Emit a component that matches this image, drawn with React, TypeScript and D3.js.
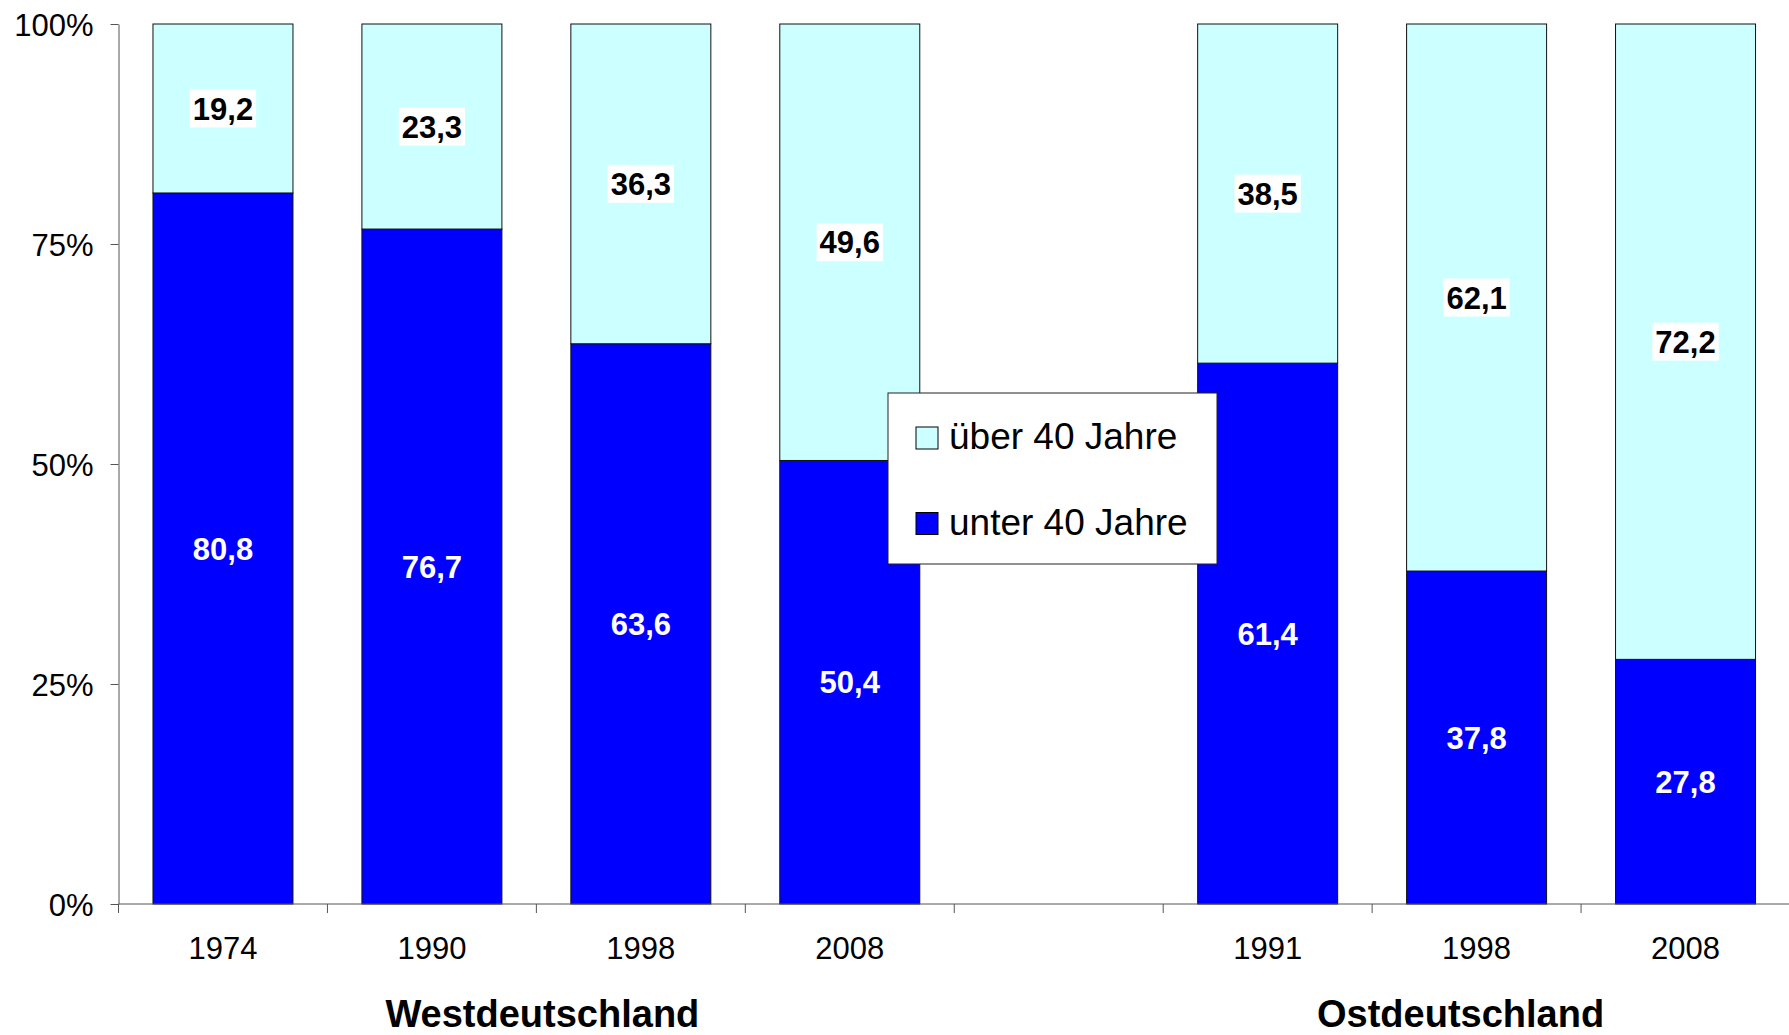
import { useEffect, useRef } from 'react';
import * as d3 from 'd3';

// categories (gap in the middle separates West / East)
const keys = ['W1974', 'W1990', 'W1998', 'W2008', 'gap', 'O1991', 'O1998', 'O2008'];
const years = ['1974', '1990', '1998', '2008', '', '1991', '1998', '2008'];
const under40 = [80.8, 76.7, 63.6, 50.4, null, 61.4, 37.8, 27.8];
const over40 = [19.2, 23.3, 36.3, 49.6, null, 38.5, 62.1, 72.2];
const yTicks = [0, 0.25, 0.5, 0.75, 1];
const seriesNames = ['über 40 Jahre', 'unter 40 Jahre'];
const groups = [
  { name: 'Westdeutschland', from: 'W1974', to: 'W2008' },
  { name: 'Ostdeutschland', from: 'O1991', to: 'O2008' },
];

const W = 1789;
const H = 1035;
const DARK = '#0000FF';
const LIGHT = '#CCFFFF';
const FONT = '"Liberation Sans", Arial, Helvetica, sans-serif';

export default function App() {
  const svgRef = useRef<SVGSVGElement>(null);

  useEffect(() => {
    document.body.style.margin = '0';
    document.body.style.overflow = 'hidden';
    if (!svgRef.current) return;
    const svg = d3.select(svgRef.current);
    svg.selectAll('*').remove();

    const left = 118.5;
    const top = 24;
    const bottom = 904;

    const x = d3.scaleBand<string>().domain(keys).range([left, W + 1]).paddingInner(0.33).paddingOuter(0.165);
    const y = d3.scaleLinear().domain([0, 1]).range([bottom, top]);
    const step = x.step();
    const bw = x.bandwidth();

    // bars
    const data = keys.map((k, i) => ({ k, i, u: under40[i], o: over40[i] })).filter(d => d.u != null);
    const g = svg.append('g');
    data.forEach(d => {
      const tot = (d.u as number) + (d.o as number);
      const share = (d.u as number) / tot;
      g.append('rect')
        .attr('x', x(d.k)!).attr('width', bw)
        .attr('y', y(share)).attr('height', y(0) - y(share))
        .attr('fill', DARK).attr('stroke', '#111').attr('stroke-width', 1);
      g.append('rect')
        .attr('x', x(d.k)!).attr('width', bw)
        .attr('y', y(1)).attr('height', y(share) - y(1))
        .attr('fill', LIGHT).attr('stroke', '#111').attr('stroke-width', 1);
    });

    // labels
    const fmt = (v: number) => v.toFixed(1).replace('.', ',');
    data.forEach(d => {
      const tot = (d.u as number) + (d.o as number);
      const share = (d.u as number) / tot;
      const cx = x(d.k)! + bw / 2;
      // bottom (white text)
      svg.append('text')
        .attr('x', cx).attr('y', (y(0) + y(share)) / 2)
        .attr('text-anchor', 'middle').attr('dy', '0.36em')
        .style('font-family', FONT).style('font-weight', 'bold').style('font-size', '31px')
        .attr('fill', '#fff')
        .text(fmt(d.u as number));
      // top (black text on white box)
      const cy = (y(share) + y(1)) / 2;
      const lab = svg.append('g');
      const box = lab.append('rect').attr('fill', '#fff');
      const t = lab.append('text')
        .attr('x', cx).attr('y', cy)
        .attr('text-anchor', 'middle').attr('dy', '0.36em')
        .style('font-family', FONT).style('font-weight', 'bold').style('font-size', '31px')
        .attr('fill', '#000')
        .text(fmt(d.o as number));
      const bb = (t.node() as SVGTextElement).getBBox();
      box.attr('x', cx - bb.width / 2 - 3).attr('width', bb.width + 6)
        .attr('y', cy - 19).attr('height', 38);
    });

    // y axis
    const yAxis = d3.axisLeft(y).tickValues(yTicks).tickFormat(d3.format('.0%'))
      .tickSizeInner(8).tickSizeOuter(0).tickPadding(17);
    const ya = svg.append('g').attr('transform', `translate(${left},0)`).call(yAxis);
    ya.select('.domain').attr('stroke', '#555');
    ya.selectAll('.tick line').attr('stroke', '#555');
    ya.selectAll('.tick text')
      .style('font-family', FONT).style('font-size', '31px').attr('fill', '#000').attr('dy', '0.36em');

    // x axis
    svg.append('line').attr('x1', left).attr('x2', W).attr('y1', bottom).attr('y2', bottom).attr('stroke', '#555');
    keys.forEach((k, i) => {
      const bx = x(k)! - (step - bw) / 2;
      svg.append('line').attr('x1', bx).attr('x2', bx).attr('y1', bottom).attr('y2', bottom + 9).attr('stroke', '#555');
      if (years[i]) {
        svg.append('text')
          .attr('x', x(k)! + bw / 2).attr('y', 959)
          .attr('text-anchor', 'middle')
          .style('font-family', FONT).style('font-size', '31px').attr('fill', '#000')
          .text(years[i]);
      }
    });

    // group labels
    groups.forEach(gr => {
      const x0 = x(gr.from)!;
      const x1 = x(gr.to)! + bw;
      const off = gr.name === 'Westdeutschland' ? 6 : -16;
      svg.append('text')
        .attr('x', (x0 + x1) / 2 + off).attr('y', 1027)
        .attr('text-anchor', 'middle')
        .style('font-family', FONT).style('font-weight', 'bold').style('font-size', '38px').attr('fill', '#000')
        .text(gr.name);
    });

    // legend
    const lg = svg.append('g').attr('transform', 'translate(888,393)');
    lg.append('rect').attr('width', 329).attr('height', 171).attr('fill', '#fff').attr('stroke', '#222').attr('stroke-width', 1);
    [LIGHT, DARK].forEach((c, i) => {
      const yy = 34 + i * 85.5;
      lg.append('rect').attr('x', 28).attr('y', yy).attr('width', 22).attr('height', 22)
        .attr('fill', c).attr('stroke', '#000').attr('stroke-width', 1);
      lg.append('text').attr('x', 61).attr('y', yy + 22)
        .style('font-family', FONT).style('font-size', '37px').attr('fill', '#000')
        .text(seriesNames[i]);
    });
  }, []);

  return (
    <svg ref={svgRef} width={W} height={H}
      style={{ position: 'absolute', left: 0, top: 0, background: '#fff', display: 'block' }} />
  );
}
